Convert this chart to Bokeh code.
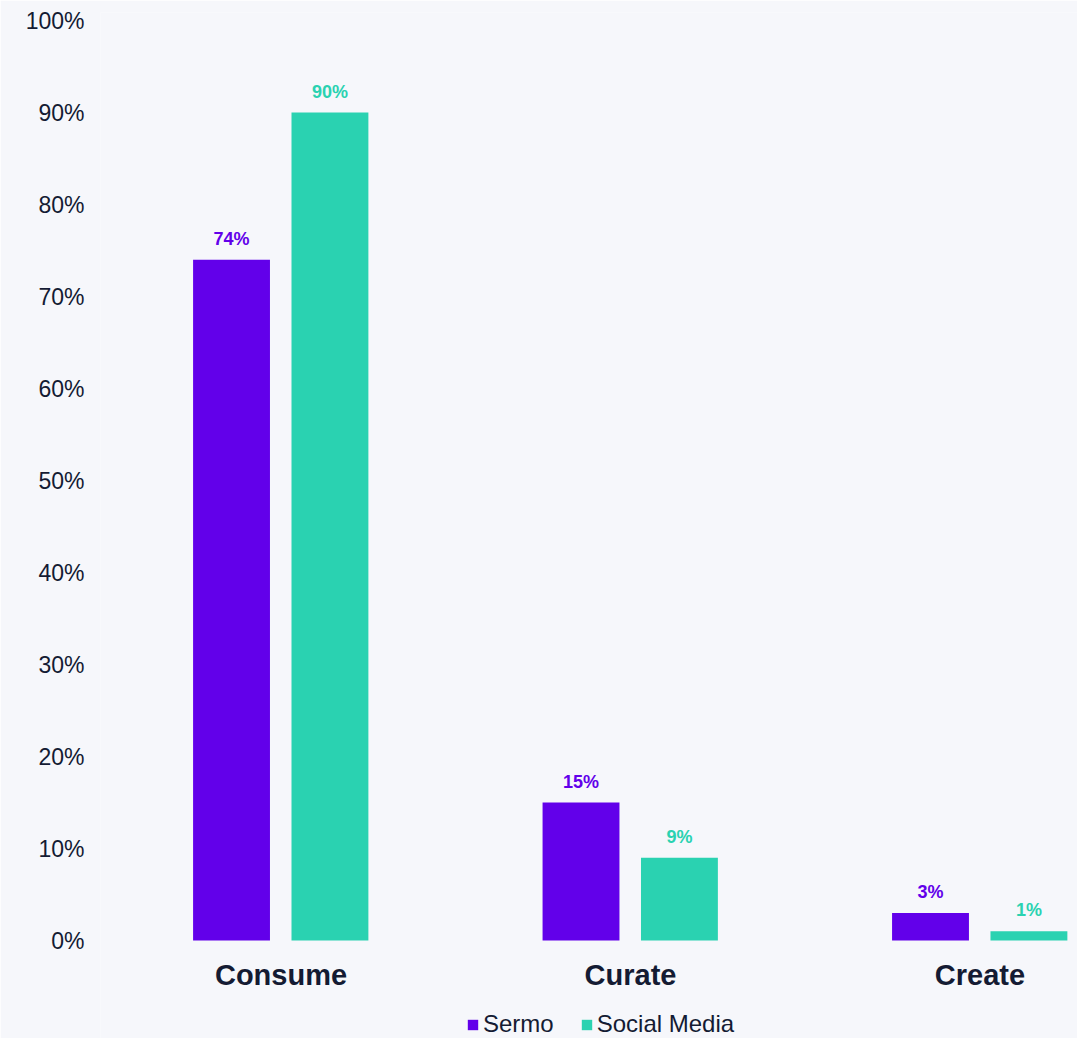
from bokeh.plotting import figure
from bokeh.models import ColumnDataSource, Legend, LegendItem, FixedTicker, Range1d
from bokeh.core.properties import value
from bokeh.embed import file_html
from bokeh.resources import INLINE

categories = ["Consume", "Curate", "Create"]
series_names = ["Sermo", "Social Media"]
sermo = [74, 15, 3]
social = [90, 9, 1]
y_ticks = [0, 10, 20, 30, 40, 50, 60, 70, 80, 90, 100]

colors = ["#6200EA", "#2AD2B1"]
bg = "#F6F7FB"
text_color = "#141B33"
font = "Liberation Sans"

p = figure(frame_width=977, frame_height=1026, output_backend="svg", toolbar_location=None,
           x_range=Range1d(-0.5165, 2.279), y_range=Range1d(-10.652, 100.87),
           min_border_left=100, min_border_right=0, min_border_top=12, min_border_bottom=0)
p.background_fill_color = bg
p.border_fill_color = bg
p.outline_line_color = None
p.grid.visible = False

xs = list(range(len(categories)))
offsets = [-0.1416, 0.140]
renderers = []
for vals, off, col in zip([sermo, social], offsets, colors):
    src = ColumnDataSource(dict(x=[i + off for i in xs], top=vals,
                                label=[f"{v}%" for v in vals]))
    r = p.vbar(x="x", top="top", bottom=0, width=0.22, source=src, fill_color=col, line_color=None)
    renderers.append(r)
    p.text(x="x", y="top", text="label", source=src, text_align="center",
           text_baseline="bottom", y_offset=-11, text_font=value(font),
           text_font_style="bold", text_font_size="18px", text_color=col)

# category labels under the bars
cat_src = ColumnDataSource(dict(x=xs, y=[0] * len(xs), text=categories))
p.text(x="x", y="y", text="text", source=cat_src, text_align="center",
       text_baseline="middle", y_offset=34, text_font=value(font),
       text_font_style="bold", text_font_size="29px", text_color=text_color)

p.xaxis.visible = False

p.yaxis.ticker = FixedTicker(ticks=y_ticks)
p.yaxis.major_label_overrides = {t: f"{t}%" for t in y_ticks}
p.yaxis.axis_line_color = None
p.yaxis.major_tick_line_color = None
p.yaxis.minor_tick_line_color = None
p.yaxis.major_tick_out = 0
p.yaxis.major_tick_in = 0
p.yaxis.major_label_standoff = 16
p.yaxis.major_label_text_font = font
p.yaxis.major_label_text_font_size = "23px"
p.yaxis.major_label_text_color = text_color

legend = Legend(items=[LegendItem(label=n, renderers=[r]) for n, r in zip(series_names, renderers)],
                orientation="horizontal", location=(366, 0))
legend.label_text_font = font
legend.label_text_font_size = "24px"
legend.label_text_color = text_color
legend.glyph_width = 13
legend.glyph_height = 13
legend.label_standoff = 4
legend.spacing = 26
legend.padding = 0
legend.margin = 0
legend.border_line_color = None
legend.background_fill_alpha = 0
p.add_layout(legend, "center")

open("out.html", "w").write(file_html(p, INLINE))
